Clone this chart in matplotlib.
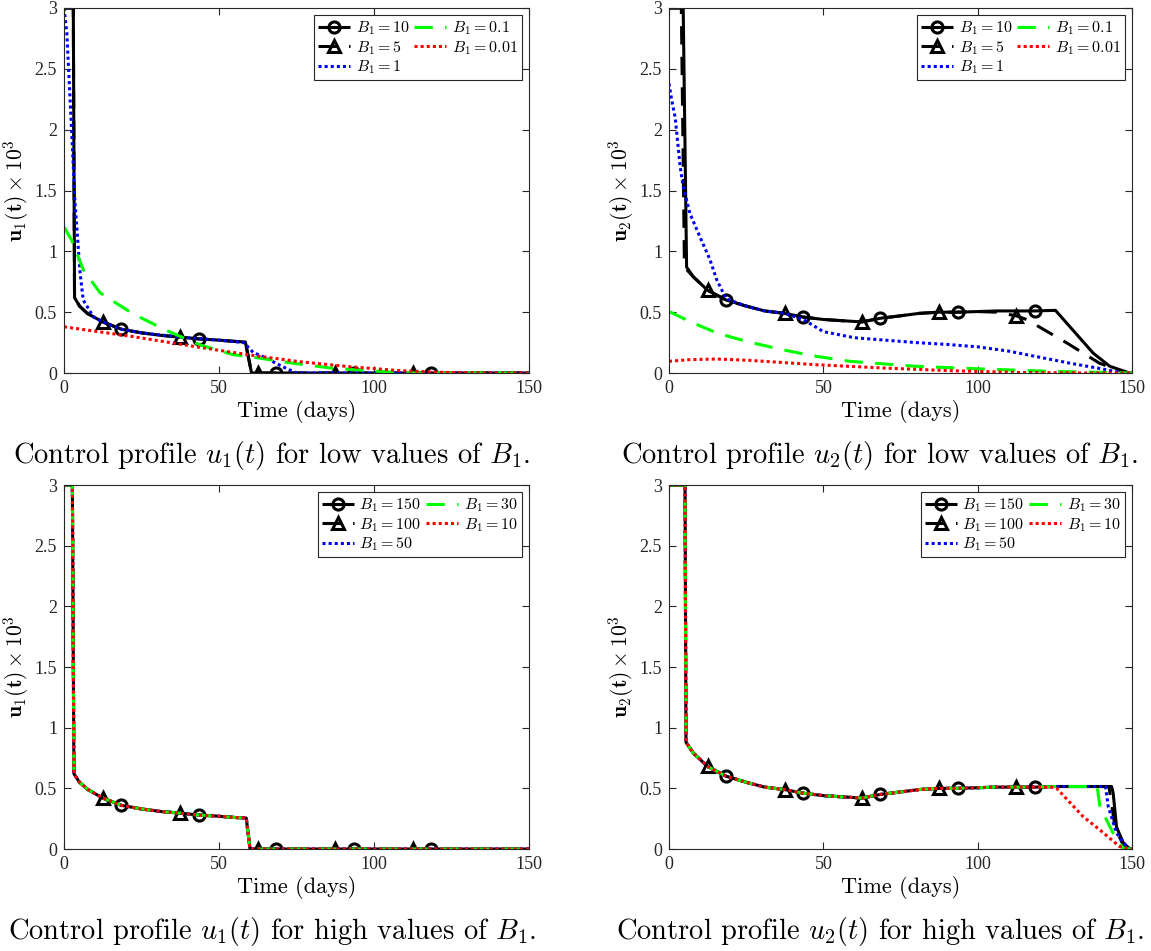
import matplotlib
matplotlib.use("Agg")
import matplotlib.pyplot as plt

plt.rcParams["mathtext.fontset"] = "cm"
plt.rcParams["font.family"] = "Liberation Serif"

# marker times shared by all panels
circ_t = [18.5, 43.5, 68.5, 93.5, 118.5]
tri_t = [12.5, 37.5, 62.5, 87.5, 112.5]

# ---- u1, low B1 ----
u1_lo_t10 = [0, 3, 3.4, 5, 7.5, 12.5, 18.5, 25, 31, 37.5, 43.5, 50, 55, 58.5, 60.5, 68.5, 93.5, 118.5, 150]
u1_lo_u10 = [3, 3, 0.62, 0.55, 0.49, 0.42, 0.36, 0.33, 0.31, 0.295, 0.28, 0.27, 0.26, 0.255, 0, 0, 0, 0, 0]
u1_lo_t5 = [0, 3, 3.4, 5, 7.5, 12.5, 18.5, 25, 31, 37.5, 43.5, 50, 55, 58.5, 60.5, 62.5, 87.5, 112.5, 150]
u1_lo_u5 = [3, 3, 0.62, 0.55, 0.49, 0.42, 0.36, 0.33, 0.31, 0.295, 0.28, 0.27, 0.26, 0.255, 0, 0, 0, 0, 0]
u1_lo_t1 = [0, 0.9, 2.5, 3.5, 5.2, 6.2, 9.5, 12.5, 18.5, 25, 37.5, 50, 58, 61, 65.4, 70.7, 75, 150]
u1_lo_u1 = [3, 2.8, 1.97, 1.42, 0.82, 0.6, 0.46, 0.42, 0.36, 0.33, 0.295, 0.27, 0.25, 0.17, 0.12, 0.05, 0, 0]
u1_lo_t01 = [0, 2.5, 6.2, 11.6, 22, 33, 44, 54.6, 60, 74, 87, 98, 108, 115, 150]
u1_lo_u01 = [1.2, 1.09, 0.85, 0.66, 0.49, 0.35, 0.23, 0.15, 0.134, 0.08, 0.038, 0.02, 0.003, 0, 0]
u1_lo_t001 = [0, 22, 44, 60, 76, 92, 108, 124, 135, 150]
u1_lo_u001 = [0.38, 0.3, 0.21, 0.148, 0.093, 0.052, 0.02, 0.003, 0, 0]

# ---- u2, low B1 ----
u2_lo_t10 = [0, 4.6, 5.7, 7.9, 12.5, 18.5, 25, 31, 37.5, 43.5, 50, 56, 62.5, 68.5, 75, 81, 87.5,
             93.5, 100, 106, 112.5, 118.5, 125.2, 137.4, 142.8, 149.2, 150]
u2_lo_u10 = [3, 3, 0.87, 0.79, 0.68, 0.6, 0.55, 0.51, 0.49, 0.46, 0.44, 0.43, 0.42, 0.45, 0.47, 0.49, 0.5,
             0.5, 0.505, 0.51, 0.51, 0.51, 0.515, 0.164, 0.055, 0, 0]
u2_lo_t5 = [0, 4.0, 5.0, 7.9, 12.5, 18.5, 25, 31, 37.5, 43.5, 50, 56, 62.5, 68.5, 75, 81, 87.5,
            93.5, 100, 106, 112.5, 115.8, 128.7, 139.5, 148, 150]
u2_lo_u5 = [3, 3, 0.87, 0.79, 0.68, 0.6, 0.55, 0.51, 0.49, 0.46, 0.44, 0.43, 0.42, 0.45, 0.47, 0.49, 0.5,
            0.5, 0.505, 0.5, 0.47, 0.44, 0.25, 0.08, 0, 0]
u2_lo_t1 = [0, 0.9, 2, 3.6, 4.6, 6.8, 10, 13.3, 15.4, 18.5, 25, 31, 37.5, 43.5, 50, 60, 70, 80,
            90, 100, 110, 120, 130, 140, 147, 150]
u2_lo_u1 = [2.38, 2.24, 2.1, 1.7, 1.53, 1.31, 1.12, 0.93, 0.77, 0.61, 0.55, 0.51, 0.49, 0.44, 0.34, 0.29,
            0.27, 0.25, 0.235, 0.215, 0.18, 0.13, 0.08, 0.035, 0, 0]
u2_lo_t01 = [0, 7, 15.4, 25, 37, 47, 58.6, 80, 101.8, 123.3, 150]
u2_lo_u01 = [0.506, 0.42, 0.33, 0.26, 0.19, 0.14, 0.096, 0.055, 0.033, 0.014, 0]
u2_lo_t001 = [0, 7, 15.4, 26, 47.8, 69.4, 91, 112.6, 135, 150]
u2_lo_u001 = [0.096, 0.11, 0.115, 0.104, 0.068, 0.041, 0.019, 0.005, 0, 0]

# ---- u1, high B1 (all five runs coincide) ----
u1_hi_t = [0, 2.7, 3.2, 5, 7.7, 12.5, 18.5, 25, 31, 37.5, 43.5, 50, 55, 58.8, 60, 62.5, 68.5,
           87.5, 93.5, 112.5, 118.5, 150]
u1_hi_u = [3, 3, 0.62, 0.55, 0.49, 0.42, 0.36, 0.33, 0.31, 0.295, 0.28, 0.27, 0.26, 0.255, 0, 0, 0,
           0, 0, 0, 0, 0]

# ---- u2, high B1: shared head, then each run's own tail ----
u2_hi_head_t = [0, 5.2, 5.5, 7.9, 12.5, 18.5, 25, 31, 37.5, 43.5, 50, 56, 62.5, 68.5, 75, 81, 87.5,
                93.5, 100, 106, 112.5, 118.5]
u2_hi_head_u = [3, 3, 0.88, 0.79, 0.68, 0.6, 0.55, 0.51, 0.49, 0.46, 0.44, 0.43, 0.42, 0.45, 0.47, 0.49, 0.5,
                0.5, 0.505, 0.51, 0.51, 0.51]
u2_hi_tail_t150 = [125, 143.4, 143.9, 145, 147.2, 149.3, 150]
u2_hi_tail_u150 = [0.515, 0.515, 0.46, 0.18, 0.05, 0, 0]
u2_hi_tail_t100 = [125, 142.5, 143.2, 144.5, 147, 149.3, 150]
u2_hi_tail_u100 = [0.515, 0.515, 0.4, 0.18, 0.04, 0, 0]
u2_hi_tail_t50 = [125, 141.4, 142.3, 145, 148, 149.5, 150]
u2_hi_tail_u50 = [0.515, 0.515, 0.35, 0.13, 0.03, 0, 0]
u2_hi_tail_t30 = [125, 138.7, 139.6, 143.9, 147, 149.5, 150]
u2_hi_tail_u30 = [0.515, 0.515, 0.35, 0.13, 0.01, 0, 0]
u2_hi_tail_t10 = [124, 125.6, 134.2, 139.6, 146, 149, 150]
u2_hi_tail_u10 = [0.51, 0.5, 0.266, 0.157, 0.02, 0, 0]

yticks = [0, 0.5, 1, 1.5, 2, 2.5, 3]
ytick_labels = ["0", "0.5", "1", "1.5", "2", "2.5", "3"]

STYLES = [
    dict(color="k", ls="-", marker="o"),
    dict(color="k", dashes=(6, 4), marker="^"),
    dict(color="#0000ff", dashes=(1, 1)),
    dict(color="#00ff00", dashes=(6, 4)),
    dict(color="#ff0000", dashes=(1, 1)),
]


def mark_idx(t, times):
    return [i for i, v in enumerate(t) if v in times]


def draw(ax, series, labels, ylabel):
    for k, (t, u) in enumerate(series):
        st = dict(STYLES[k])
        kw = dict(lw=2.2, label=labels[k], solid_capstyle="butt", dash_capstyle="butt")
        if "marker" in st:
            times = circ_t if st["marker"] == "o" else tri_t
            ms = 8 if st["marker"] == "o" else 9
            kw.update(markevery=mark_idx(t, times), ms=ms, mfc="none", mew=2.2, mec="k")
        ax.plot(t, u, **st, **kw)
    ax.set_xlim(0, 150)
    ax.set_ylim(0, 3)
    ax.set_xticks([0, 50, 100, 150])
    ax.set_yticks(yticks)
    ax.set_yticklabels(ytick_labels)
    ax.tick_params(direction="in", top=True, right=True, length=5, width=0.8,
                   labelsize=13, colors="#262626", pad=5)
    for s in ax.spines.values():
        s.set_color("#262626")
        s.set_linewidth(0.8)
    ax.set_xlabel("Time (days)", fontfamily="cmr10", fontsize=16, labelpad=2)
    ax.set_ylabel(ylabel, fontsize=15.5)
    ax.yaxis.set_label_coords(-0.072, 0.5)
    leg = ax.legend(ncol=2, loc="upper right", fontsize=11.5, handlelength=2.0,
                    columnspacing=0.3, handletextpad=0.35, labelspacing=0.12,
                    borderpad=0.25, fancybox=False, framealpha=1,
                    borderaxespad=0.45, numpoints=1)
    leg.get_frame().set_edgecolor("#262626")
    leg.get_frame().set_linewidth(0.8)


fig = plt.figure(figsize=(11.51, 9.51), dpi=100)
W, H = 1151, 951
ax_tl = fig.add_axes([64 / W, 1 - 373 / H, 465 / W, 365 / H])
ax_tr = fig.add_axes([669 / W, 1 - 373 / H, 463 / W, 365 / H])
ax_bl = fig.add_axes([64 / W, 1 - 849 / H, 465 / W, 364 / H])
ax_br = fig.add_axes([669 / W, 1 - 849 / H, 463 / W, 364 / H])

lab_u1 = r"$\mathbf{u_1(t)\times 10^3}$"
lab_u2 = r"$\mathbf{u_2(t)\times 10^3}$"
low_labels = [r"$B_1=10$", r"$B_1=5$", r"$B_1=1$", r"$B_1=0.1$", r"$B_1=0.01$"]
high_labels = [r"$B_1=150$", r"$B_1=100$", r"$B_1=50$", r"$B_1=30$", r"$B_1=10$"]

draw(ax_tl, [(u1_lo_t10, u1_lo_u10), (u1_lo_t5, u1_lo_u5), (u1_lo_t1, u1_lo_u1),
             (u1_lo_t01, u1_lo_u01), (u1_lo_t001, u1_lo_u001)], low_labels, lab_u1)
draw(ax_tr, [(u2_lo_t10, u2_lo_u10), (u2_lo_t5, u2_lo_u5), (u2_lo_t1, u2_lo_u1),
             (u2_lo_t01, u2_lo_u01), (u2_lo_t001, u2_lo_u001)], low_labels, lab_u2)
draw(ax_bl, [(u1_hi_t, u1_hi_u)] * 5, high_labels, lab_u1)
draw(ax_br, [(u2_hi_head_t + u2_hi_tail_t150, u2_hi_head_u + u2_hi_tail_u150),
             (u2_hi_head_t + u2_hi_tail_t100, u2_hi_head_u + u2_hi_tail_u100),
             (u2_hi_head_t + u2_hi_tail_t50, u2_hi_head_u + u2_hi_tail_u50),
             (u2_hi_head_t + u2_hi_tail_t30, u2_hi_head_u + u2_hi_tail_u30),
             (u2_hi_head_t + u2_hi_tail_t10, u2_hi_head_u + u2_hi_tail_u10)], high_labels, lab_u2)

cap = dict(fontfamily="cmr10", fontsize=20.5, ha="center", va="center")
fig.text(272 / W, 1 - 455 / H, r"Control profile $u_1(t)$ for low values of $B_1$.", **cap)
fig.text(880 / W, 1 - 455 / H, r"Control profile $u_2(t)$ for low values of $B_1$.", **cap)
fig.text(272 / W, 1 - 931 / H, r"Control profile $u_1(t)$ for high values of $B_1$.", **cap)
fig.text(880 / W, 1 - 931 / H, r"Control profile $u_2(t)$ for high values of $B_1$.", **cap)

fig.savefig("out.png", dpi=100)
